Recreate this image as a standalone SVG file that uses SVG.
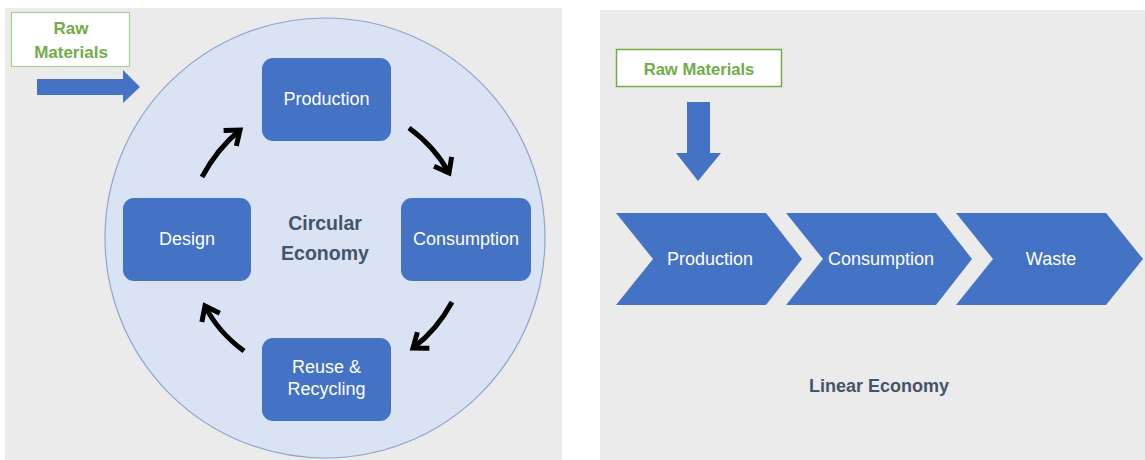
<svg xmlns="http://www.w3.org/2000/svg" width="1145" height="460" viewBox="0 0 1145 460">
  <style>
    .panel { fill: #ebebeb; }
    .box { fill: #4472c4; }
    .lbl { font-family: "Liberation Sans", Arial, sans-serif; font-size: 18px; fill: #ffffff; text-anchor: middle; dominant-baseline: central; }
    .title { font-family: "Liberation Sans", Arial, sans-serif; font-weight: bold; fill: #44546a; text-anchor: middle; dominant-baseline: central; }
    .raw { font-family: "Liberation Sans", Arial, sans-serif; font-weight: bold; fill: #70ad47; text-anchor: middle; dominant-baseline: central; }
    .cyc { fill: none; stroke: #000000; stroke-width: 5; stroke-linecap: butt; }
  </style>
  <defs>
    <marker id="head" markerUnits="userSpaceOnUse" markerWidth="26" markerHeight="26" viewBox="0 0 26 26" refX="18" refY="13" orient="auto">
      <path d="M5,3 L18,13 L5,23" fill="none" stroke="#000000" stroke-width="5" stroke-linejoin="miter"/>
    </marker>
  </defs>

  <rect class="panel" x="5" y="8" width="557" height="452"/>
  <rect class="panel" x="600" y="10" width="545" height="450"/>

  <g id="circle-bg">
    <circle cx="325" cy="238" r="220" fill="#dae3f3" stroke="#8ea5cc" stroke-width="1.2"/>
  </g>

  <g id="raw-left">
    <rect x="11.5" y="12.5" width="118" height="54" fill="#ffffff" stroke="#a9d18e" stroke-width="1.2"/>
    <text class="raw" x="71" y="28" font-size="17">Raw</text>
    <text class="raw" x="71" y="52" font-size="17">Materials</text>
  </g>
  <g id="raw-left-arrow">
    <polygon class="box" points="37,79 123,79 123,70 140,87 123,103 123,95 37,95"/>
  </g>

  <g id="production">
    <rect class="box" x="262" y="58" width="129" height="83" rx="11"/>
    <text class="lbl" x="326.5" y="99">Production</text>
  </g>
  <g id="consumption">
    <rect class="box" x="401" y="198" width="130" height="83" rx="11"/>
    <text class="lbl" x="466" y="239">Consumption</text>
  </g>
  <g id="reuse">
    <rect class="box" x="262" y="338" width="129" height="83" rx="11"/>
    <text class="lbl" x="326.5" y="367">Reuse &amp;</text>
    <text class="lbl" x="326.5" y="389">Recycling</text>
  </g>
  <g id="design">
    <rect class="box" x="123" y="198" width="128" height="83" rx="11"/>
    <text class="lbl" x="187" y="239">Design</text>
  </g>
  <g id="circular-title">
    <text class="title" x="325" y="223" font-size="19.5">Circular</text>
    <text class="title" x="325" y="253" font-size="19.5">Economy</text>
  </g>

  <g id="connectors">
    <path class="cyc" d="M202,177 Q217,149 240,130" marker-end="url(#head)"/>
    <path class="cyc" d="M409,128 Q435,147 449,173" marker-end="url(#head)"/>
    <path class="cyc" d="M452,302 Q437,330 413,348" marker-end="url(#head)"/>
    <path class="cyc" d="M244,351 Q218,332 205,306" marker-end="url(#head)"/>
  </g>

  <g id="raw-right">
    <rect x="616.5" y="49.5" width="165" height="37" fill="#ffffff" stroke="#70ad47" stroke-width="1.5"/>
    <text class="raw" x="699" y="69" font-size="16.6">Raw Materials</text>
  </g>
  <g id="raw-right-arrow">
    <polygon class="box" points="687,102 710,102 710,153 721,153 698,181 676,153 687,153"/>
  </g>

  <g id="chev-production">
    <polygon class="box" points="616,213 766,213 802,259 766,305 616,305 653,259"/>
    <text class="lbl" x="710" y="259" font-size="17.5">Production</text>
  </g>
  <g id="chev-consumption">
    <polygon class="box" points="786,213 936,213 972,259 936,305 786,305 823,259"/>
    <text class="lbl" x="881" y="259" font-size="17.5">Consumption</text>
  </g>
  <g id="chev-waste">
    <polygon class="box" points="956,213 1106,213 1143,259 1106,305 956,305 993,259"/>
    <text class="lbl" x="1051" y="259" font-size="17.5">Waste</text>
  </g>

  <g id="linear-title">
    <text class="title" x="879" y="386" font-size="18">Linear Economy</text>
  </g>
</svg>
